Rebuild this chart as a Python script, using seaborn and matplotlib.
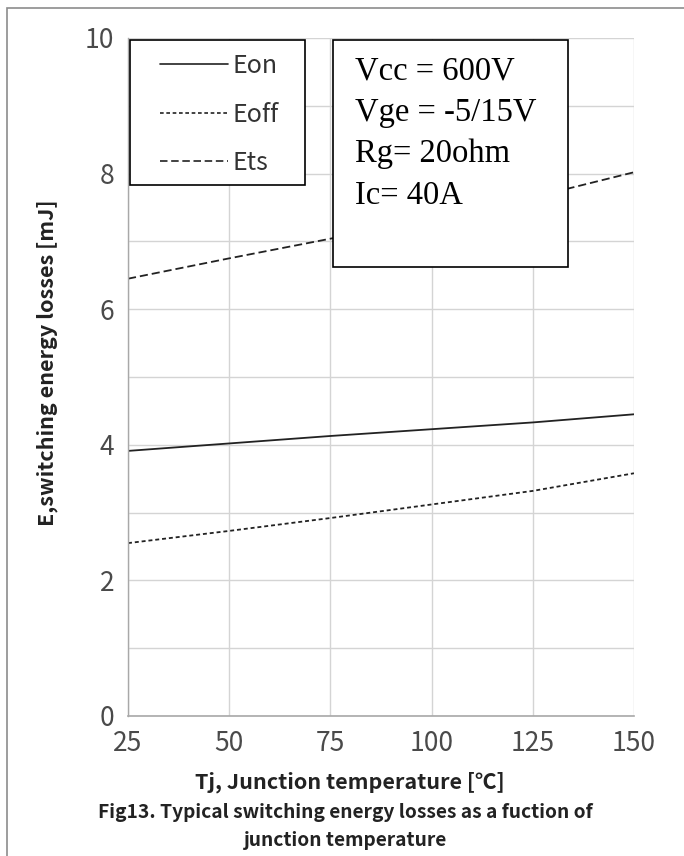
import numpy as np
import pandas as pd
import matplotlib
matplotlib.use("Agg")
import matplotlib.pyplot as plt
from matplotlib.patches import Rectangle
from matplotlib.ticker import MultipleLocator
import seaborn as sns

# values
tj = [25, 50, 75, 100, 125, 150]
e_on = [3.91, 4.02, 4.13, 4.23, 4.33, 4.45]
e_off = [2.55, 2.73, 2.92, 3.12, 3.32, 3.58]
e_ts = [6.45, 6.75, 7.04, 7.34, 7.65, 8.02]
series_names = ["Eon", "Eoff", "Ets"]
x_ticks = [25, 50, 75, 100, 125, 150]
y_ticks = [0, 2, 4, 6, 8, 10]
conditions = ["Vcc = 600V", "Vge = -5/15V", "Rg= 20ohm", "Ic= 40A"]

W, H = 684, 856

def fx(px):
    return px / W

def fy(py):
    return 1 - py / H

df = pd.DataFrame({
    "Tj": tj * 3,
    "E": e_on + e_off + e_ts,
    "curve": ["Eon"] * len(tj) + ["Eoff"] * len(tj) + ["Ets"] * len(tj),
})

sns.set_theme(style="white")
plt.rcParams["font.family"] = ["Noto Sans CJK SC", "DejaVu Sans"]

fig = plt.figure(figsize=(W / 100, H / 100), dpi=100)
ax = fig.add_axes([fx(128), fy(716), fx(634) - fx(128), fy(38) - fy(716)])

dash_off = (2.2, 1.6)
dash_ts = (4.5, 2.2)
sns.lineplot(data=df, x="Tj", y="E", style="curve", style_order=series_names,
             dashes={"Eon": "", "Eoff": dash_off, "Ets": dash_ts},
             color="#222222", linewidth=1.3, ax=ax, legend=False)

ax.set_xlim(25, 150)
ax.set_ylim(0, 10)
ax.set_xticks(x_ticks)
ax.set_yticks(y_ticks)
ax.yaxis.set_minor_locator(MultipleLocator(1))
ax.grid(True, which="both", axis="y", color="#d4d4d4", linewidth=1.0)
ax.grid(True, which="major", axis="x", color="#d4d4d4", linewidth=1.0)
ax.set_axisbelow(True)
for side in ["top", "right"]:
    ax.spines[side].set_visible(False)
ax.spines["left"].set_color("#a8a8a8")
ax.spines["bottom"].set_color("#a8a8a8")
ax.spines["left"].set_linewidth(1.0)
ax.spines["bottom"].set_linewidth(1.2)
ax.tick_params(axis="both", which="major", direction="out", length=5,
               color="#a8a8a8", labelcolor="#4a4a4a", labelsize=19, pad=5)
ax.tick_params(axis="y", which="minor", length=0)
for lab in ax.get_xticklabels() + ax.get_yticklabels():
    lab.set_fontweight("light")
ax.set_xlabel("")
ax.set_ylabel("")

# legend: frameless entries inside a drawn box
ax.add_patch(Rectangle((fx(130), fy(185)), fx(305) - fx(130), fy(40) - fy(185),
                       transform=fig.transFigure, fill=True, facecolor="white",
                       edgecolor="black", linewidth=1.2, zorder=4, clip_on=False))
handles = [plt.Line2D([], [], color="#222222", linewidth=1.2, linestyle=ls)
           for ls in ["-", (0, dash_off), (0, dash_ts)]]
leg = ax.legend(handles, series_names, loc="upper left",
                bbox_to_anchor=(fx(160), fy(53)), bbox_transform=fig.transFigure,
                prop={"size": 18, "weight": "light"}, handlelength=2.7,
                handletextpad=0.2, labelspacing=0.9, borderpad=0,
                borderaxespad=0, frameon=False)
leg.set_zorder(6)
for t in leg.get_texts():
    t.set_color("#333333")

# test conditions box
ax.add_patch(Rectangle((fx(333), fy(267)), fx(568) - fx(333), fy(40) - fy(267),
                       transform=fig.transFigure, fill=True, facecolor="white",
                       edgecolor="black", linewidth=1.2, zorder=5, clip_on=False))
for i, line in enumerate(conditions):
    fig.text(fx(355), fy(71 + i * 41.5), line, family="Liberation Serif",
             fontsize=23.5, color="black", va="center", ha="left", zorder=6)

# axis labels and caption
fig.text(fx(47), fy(363), "E,switching energy losses [mJ]", rotation=90,
         ha="center", va="center", fontsize=15.5, fontweight="bold", color="#222222")
fig.text(fx(350), fy(782), "Tj, Junction temperature [℃]", ha="center", va="center",
         fontsize=15.5, fontweight="bold", color="#222222")
fig.text(fx(345), fy(812), "Fig13. Typical switching energy losses as a fuction of",
         ha="center", va="center", fontsize=13.8, fontweight="bold", color="#222222")
fig.text(fx(345), fy(841), "junction temperature", ha="center", va="center",
         fontsize=13.8, fontweight="bold", color="#222222")

# outer frame (only top and left edges fall inside the picture)
fig.add_artist(Rectangle((fx(7), -0.1), 2, fy(8) + 0.1, transform=fig.transFigure,
                         fill=False, edgecolor="#8c8c8c", linewidth=1.2))

fig.savefig("out.png", dpi=100)
